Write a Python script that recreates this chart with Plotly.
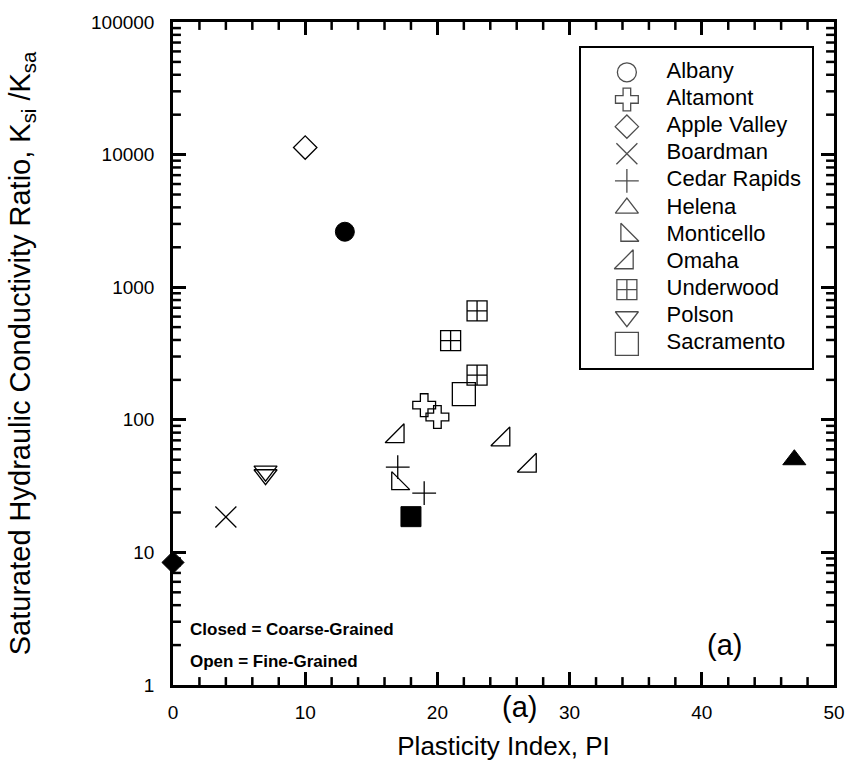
import plotly.graph_objects as go

# ---- data ----
sites = ["Albany", "Altamont", "Apple Valley", "Boardman", "Cedar Rapids",
         "Helena", "Monticello", "Omaha", "Underwood", "Polson", "Sacramento"]
symbols = ["circle-open", "cross-open", "diamond-open", "x-thin-open", "cross-thin-open",
           "triangle-up-open", "triangle-sw-open", "triangle-se-open", "square-cross-open",
           "triangle-down-open", "square-open"]
sizes = [19, 19, 18, 21, 17, 20, 20, 21, 20, 20, 23]

# open = fine-grained
fine_pi = {
    "Albany": [],
    "Altamont": [19, 20],
    "Apple Valley": [10],
    "Boardman": [4],
    "Cedar Rapids": [17, 19],
    "Helena": [],
    "Monticello": [17],
    "Omaha": [17, 25, 27],
    "Underwood": [23, 21, 23],
    "Polson": [7, 7],
    "Sacramento": [22],
}
fine_k = {
    "Albany": [],
    "Altamont": [129, 105],
    "Apple Valley": [11300],
    "Boardman": [18.5],
    "Cedar Rapids": [44, 28],
    "Helena": [],
    "Monticello": [33],
    "Omaha": [75, 71, 45],
    "Underwood": [662, 395, 217],
    "Polson": [41, 38.5],
    "Sacramento": [156],
}

# closed = coarse-grained
coarse_sites = ["Albany", "Apple Valley", "Sacramento", "Helena"]
coarse_symbols = ["circle", "diamond", "square", "triangle-up"]
coarse_sizes = [19, 17, 20, 20]
coarse_pi = [13, 0, 18, 47]
coarse_k = [2620, 8.4, 18.6, 50]

y_tickvals = [1, 10, 100, 1000, 10000, 100000]
y_ticktext = ["1", "10", "100", "1000", "10000", "100000"]
y_minor_digits = [2, 3, 4, 5, 6, 7, 8, 9]
x_minor_vals = [v for v in range(0, 51, 2) if v % 10 != 0]

FONT = "Liberation Sans, Arial, sans-serif"
X_RANGE = [0, 50]
Y_DECADES = [0, 5]
PLOT_H, PLOT_W = 670, 667   # plot-area size in px
MINOR_LEN = 8                # px

fig = go.Figure()
for s, sym, sz in zip(sites, symbols, sizes):
    if not fine_pi[s]:
        continue
    fig.add_trace(go.Scatter(
        x=fine_pi[s], y=fine_k[s], mode="markers", name=s,
        marker=dict(symbol=sym, size=sz, color="black",
                    line=dict(color="black", width=1.3)),
    ))
for s, sym, sz, xv, yv in zip(coarse_sites, coarse_symbols, coarse_sizes, coarse_pi, coarse_k):
    fig.add_trace(go.Scatter(
        x=[xv], y=[yv], mode="markers", name=s + " (coarse)",
        marker=dict(symbol=sym, size=sz, color="black", line=dict(color="black", width=1)),
        cliponaxis=False,
    ))

# minor tick segments (inside, all four sides), built from the tick lists
y_minor = [d * 10 ** e for e in range(5) for d in y_minor_digits]
dy_fac = 10 ** (MINOR_LEN * (Y_DECADES[1] - Y_DECADES[0]) / PLOT_H)
dx = MINOR_LEN * (X_RANGE[1] - X_RANGE[0]) / PLOT_W
y_lo, y_hi = 10 ** Y_DECADES[0], 10 ** Y_DECADES[1]
tx, ty = [], []
for xv in x_minor_vals:
    tx += [xv, xv, None, xv, xv, None]
    ty += [y_lo, y_lo * dy_fac, None, y_hi, y_hi / dy_fac, None]
for yv in y_minor:
    tx += [X_RANGE[0], X_RANGE[0] + dx, None, X_RANGE[1], X_RANGE[1] - dx, None]
    ty += [yv, yv, None, yv, yv, None]
fig.add_trace(go.Scatter(x=tx, y=ty, mode="lines", line=dict(color="black", width=2.5),
                         hoverinfo="skip", connectgaps=False, cliponaxis=False))

# key (legend box) drawn as its own small subplot
idx = list(range(len(sites)))
fig.add_trace(go.Scatter(
    x=[0] * len(sites), y=idx, xaxis="x3", yaxis="y3", mode="markers",
    marker=dict(symbol=symbols, size=sizes, color="black", line=dict(color="black", width=1.3)),
    hoverinfo="skip", cliponaxis=False,
))
fig.add_trace(go.Scatter(
    x=[1] * len(sites), y=idx, xaxis="x3", yaxis="y3", mode="text", text=sites,
    textposition="middle right", textfont=dict(size=22, color="black"),
    hoverinfo="skip", cliponaxis=False,
))

fig.update_layout(
    width=857, height=780,
    margin=dict(l=173, r=17, t=15, b=95),
    paper_bgcolor="white", plot_bgcolor="white",
    font=dict(family=FONT, color="black", size=19),
    showlegend=False,
    xaxis=dict(
        range=X_RANGE, tickmode="linear", tick0=0, dtick=10,
        showline=True, linecolor="black", linewidth=2.5, mirror="allticks",
        ticks="inside", ticklen=13, tickwidth=2.5, tickcolor="black",
        showgrid=False, zeroline=False, ticklabelstandoff=8,
        tickfont=dict(size=19),
        title=dict(text="Plasticity Index, PI", font=dict(size=26), standoff=16),
    ),
    yaxis=dict(
        type="log", range=Y_DECADES, tickvals=y_tickvals, ticktext=y_ticktext,
        showline=True, linecolor="black", linewidth=2.5, mirror="allticks",
        ticks="inside", ticklen=13, tickwidth=2.5, tickcolor="black",
        showgrid=False, zeroline=False, ticklabelstandoff=12,
        tickfont=dict(size=19),
        title=dict(text="Saturated Hydraulic Conductivity Ratio, K<sub>si</sub> /K<sub>sa</sub>",
                   font=dict(size=29), standoff=52),
    ),
    xaxis3=dict(
        domain=[0.6177, 0.967], anchor="y3", range=[-1.15, 4.675],
        showline=True, linecolor="black", linewidth=2, mirror=True,
        showticklabels=False, ticks="", showgrid=False, zeroline=False, fixedrange=True,
    ),
    yaxis3=dict(
        domain=[0.4776, 0.961], anchor="x3", range=[10.9, -0.9],
        showline=True, linecolor="black", linewidth=2, mirror=True,
        showticklabels=False, ticks="", showgrid=False, zeroline=False, fixedrange=True,
    ),
)

fig.add_annotation(x=0.022, y=0.083, xref="paper", yref="paper", xanchor="left", yanchor="middle",
                   text="<b>Closed = Coarse-Grained</b>", showarrow=False, font=dict(size=17))
fig.add_annotation(x=0.022, y=0.036, xref="paper", yref="paper", xanchor="left", yanchor="middle",
                   text="<b>Open = Fine-Grained</b>", showarrow=False, font=dict(size=17))
fig.add_annotation(x=0.835, y=0.06, xref="paper", yref="paper", xanchor="center", yanchor="middle",
                   text="(a)", showarrow=False, font=dict(size=29))
fig.add_annotation(x=0.524, y=-0.033, xref="paper", yref="paper", xanchor="center", yanchor="middle",
                   text="(a)", showarrow=False, font=dict(size=29))

fig.write_html("out.html")
